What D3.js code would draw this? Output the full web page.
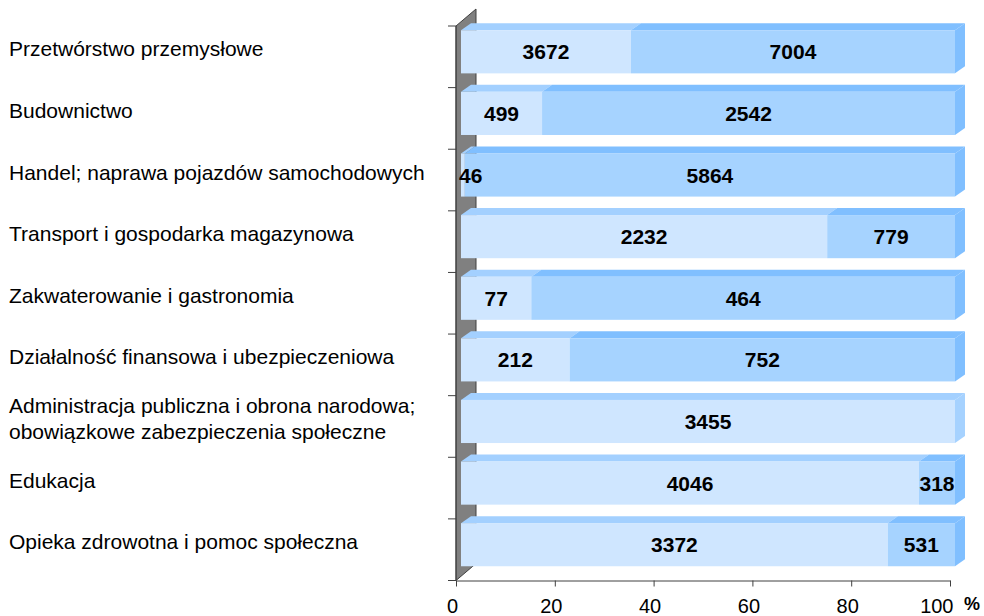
<!DOCTYPE html>
<html>
<head>
<meta charset="utf-8">
<script src="https://cdn.jsdelivr.net/npm/d3@7"></script>
<style>
    body { margin: 0; background: white; }
    text { font-family: "Liberation Sans", Arial, sans-serif; }
</style>
</head>
<body>
<div class="board"></div>
<script>
const W = 984, H = 616

let categories = [
    "Przetwórstwo przemysłowe",
    "Budownictwo",
    "Handel; naprawa pojazdów samochodowych",
    "Transport i gospodarka magazynowa",
    "Zakwaterowanie i gastronomia",
    "Działalność finansowa i ubezpieczeniowa",
    "Administracja publiczna i obrona narodowa;\nobowiązkowe zabezpieczenia społeczne",
    "Edukacja",
    "Opieka zdrowotna i pomoc społeczna",
]
let seriesA = [3672, 499, 46, 2232, 77, 212, 3455, 4046, 3372]
let seriesB = [7004, 2542, 5864, 779, 464, 752, 0, 318, 531]
let xTicks = [0, 20, 40, 60, 80, 100]

// front / top / side colours for each series
const FRONT = ["#cfe6ff", "#a6d3ff"]
const TOP = ["#a3d0ff", "#80bfff"]
const SIDE = ["#a6d2ff", "#80bfff"]

// 3d offsets
const WALL_DX = 20, WALL_DY = -17
const FRONT_DX = 5, FRONT_DY = -5
const BAR_DX = 10, BAR_DY = -7

let svg = d3.select(".board")
    .append("svg")
    .attr("width", W)
    .attr("height", H)

let x = d3.scaleLinear()
    .domain([0, 100])
    .range([456, 950])

let y = d3.scaleBand()
    .domain(categories)
    .range([26, 580.5])
    .paddingInner(0.3)
    .paddingOuter(0.15)

let rows = categories.map((c, i) => ({ cat: c, a: seriesA[i], b: seriesB[i] }))
let stacked = d3.stack()
    .keys(["a", "b"])
    .offset(d3.stackOffsetExpand)(rows)

// grey side wall
let x0 = x(0), yTop = y.range()[0], yBot = y.range()[1]
svg.append("path")
    .attr("d", d3.line()([
        [x0, yTop], [x0 + WALL_DX, yTop + WALL_DY],
        [x0 + WALL_DX, yBot + WALL_DY], [x0, yBot]
    ]) + "Z")
    .attr("fill", "#808080")
    .attr("stroke", "#404040")
    .attr("stroke-width", 1)

// category ticks
let bounds = categories.map(c => y(c) - y.step() * y.paddingInner() / 2)
bounds.push(yBot)
svg.append("g").selectAll("line")
    .data(bounds)
    .enter()
    .append("line")
    .attr("x1", x0 - 8).attr("x2", x0)
    .attr("y1", d => d).attr("y2", d => d)
    .attr("stroke", "#404040")

svg.append("line")
    .attr("x1", x0).attr("x2", x0)
    .attr("y1", yTop).attr("y2", yBot)
    .attr("stroke", "#404040")

// x axis
let xAxis = svg.append("g")
    .attr("transform", `translate(0, ${yBot})`)
    .call(d3.axisBottom(x).tickValues(xTicks).tickSize(6).tickSizeOuter(0))
xAxis.select(".domain").attr("stroke", "#404040")
xAxis.selectAll(".tick line").attr("stroke", "#404040")
xAxis.selectAll(".tick text")
    .attr("font-size", 20)
    .attr("fill", "#000")
    .attr("y", 0)
    .attr("dy", 0)
    .attr("transform", "translate(-4, 32)")
xAxis.selectAll(".tick text")
    .filter(d => d == 100)
    .attr("text-anchor", "end")
    .attr("transform", "translate(3, 32)")

svg.append("text")
    .text("%")
    .attr("x", 964)
    .attr("y", 610)
    .attr("font-size", 18)
    .attr("font-weight", "bold")

// bars
let bars = svg.append("g")
let bw = y.bandwidth()

function segX(d) {
    return [x(d[0] * 100) + FRONT_DX, x(d[1] * 100) + FRONT_DX]
}

// top faces
stacked.forEach((s, si) => {
    bars.append("g").selectAll("path")
        .data(s.filter(d => d[1] > d[0]))
        .enter()
        .append("path")
        .attr("fill", TOP[si])
        .attr("d", d => {
            let [a, b] = segX(d)
            let t = y(d.data.cat) + FRONT_DY
            return d3.line()([[a, t], [a + BAR_DX, t + BAR_DY], [b + BAR_DX, t + BAR_DY], [b, t]]) + "Z"
        })
})

// side faces, on the last segment of each bar
rows.forEach((r, i) => {
    let si = r.b > 0 ? 1 : 0
    let d = stacked[si][i]
    let b = segX(d)[1]
    let t = y(r.cat) + FRONT_DY
    bars.append("path")
        .attr("fill", SIDE[si])
        .attr("d", d3.line()([[b, t], [b + BAR_DX, t + BAR_DY], [b + BAR_DX, t + bw + BAR_DY], [b, t + bw]]) + "Z")
})

// front faces
stacked.forEach((s, si) => {
    bars.append("g").selectAll("rect")
        .data(s.filter(d => d[1] > d[0]))
        .enter()
        .append("rect")
        .attr("x", d => segX(d)[0])
        .attr("y", d => y(d.data.cat) + FRONT_DY)
        .attr("width", d => segX(d)[1] - segX(d)[0])
        .attr("height", bw)
        .attr("fill", FRONT[si])
})

// value labels on top of everything
stacked.forEach((s, si) => {
    bars.append("g").selectAll("text")
        .data(s.filter(d => d[1] > d[0]))
        .enter()
        .append("text")
        .text(d => si == 0 ? d.data.a : d.data.b)
        .attr("font-size", 21)
        .attr("font-weight", "bold")
        .attr("text-anchor", "middle")
        .attr("dy", "0.36em")
        .attr("y", d => y(d.data.cat) + FRONT_DY + bw / 2)
        .attr("x", function (d) {
            let [a, b] = segX(d)
            let half = this.getComputedTextLength() / 2
            return Math.max((a + b) / 2, a + half - 2)
        })
})

// category labels
let labels = svg.append("g").selectAll("text")
    .data(categories)
    .enter()
    .append("text")
    .attr("font-size", 21)
    .attr("y", d => y(d) + FRONT_DY + bw / 2 - 3)

labels.each(function (d) {
    let lines = d.split("\n")
    let t = d3.select(this)
    lines.forEach((ln, k) => {
        t.append("tspan")
            .text(ln)
            .attr("x", 9)
            .attr("dy", k == 0 ? ((0.36 - (lines.length - 1) * 0.6) + "em") : "1.2em")
    })
})
</script>
</body>
</html>
